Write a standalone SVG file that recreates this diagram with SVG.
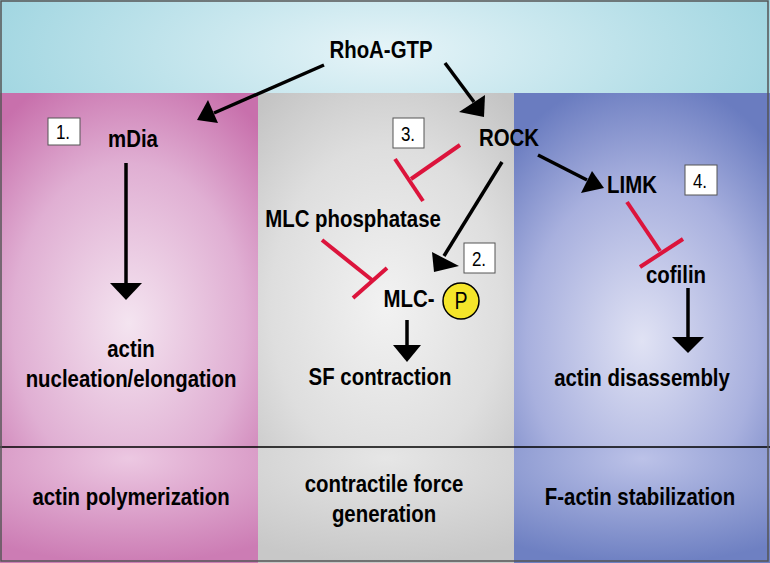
<svg xmlns="http://www.w3.org/2000/svg" width="770" height="563" viewBox="0 0 770 563">
<defs>
<radialGradient id="gTop" cx="0.5" cy="0.55" r="0.6" gradientTransform="translate(0.5 0.55) scale(1 3) translate(-0.5 -0.55)">
<stop offset="0" stop-color="#e6f4f8"/><stop offset="1" stop-color="#98d2de"/></radialGradient>
<radialGradient id="gPink" cx="0.5" cy="0.65" r="0.75"><stop offset="0" stop-color="#f4e4f0"/><stop offset="0.6" stop-color="#e0afd3"/><stop offset="1" stop-color="#c870ac"/></radialGradient>
<radialGradient id="gGrey" cx="0.5" cy="0.6" r="0.75"><stop offset="0" stop-color="#f2f2f2"/><stop offset="0.6" stop-color="#dedede"/><stop offset="1" stop-color="#c4c4c4"/></radialGradient>
<radialGradient id="gBlue" cx="0.5" cy="0.7" r="0.75"><stop offset="0" stop-color="#e0e2f4"/><stop offset="0.6" stop-color="#a8b0de"/><stop offset="1" stop-color="#6a7cc0"/></radialGradient>
<radialGradient id="gPinkB" cx="0.5" cy="0.1" r="0.9"><stop offset="0" stop-color="#ecc8e2"/><stop offset="1" stop-color="#cc7cb4"/></radialGradient>
<radialGradient id="gGreyB" cx="0.5" cy="0.1" r="0.9"><stop offset="0" stop-color="#e6e6e6"/><stop offset="1" stop-color="#c8c8c8"/></radialGradient>
<radialGradient id="gBlueB" cx="0.5" cy="0.1" r="0.9"><stop offset="0" stop-color="#bcc2e8"/><stop offset="1" stop-color="#6e80c2"/></radialGradient>
</defs>
<style>
.t{font-family:"Liberation Sans",Arial,sans-serif;font-weight:bold;font-size:24px;fill:#000;text-anchor:middle}
.n{font-family:"Liberation Sans",Arial,sans-serif;font-size:20px;fill:#000;text-anchor:middle}
.box{fill:#fff;stroke:#555;stroke-width:1}
.act{stroke:#000;stroke-width:3.5;fill:none}
.head{fill:#000}
.inh{stroke:#dc143c;stroke-width:4;fill:none}
</style>
<g id="background">
<rect x="0" y="0" width="770" height="93" fill="url(#gTop)"/>
<rect x="0" y="93" width="258" height="354" fill="url(#gPink)"/>
<rect x="258" y="93" width="256" height="354" fill="url(#gGrey)"/>
<rect x="514" y="93" width="256" height="354" fill="url(#gBlue)"/>
<rect x="0" y="447" width="258" height="116" fill="url(#gPinkB)"/>
<rect x="258" y="447" width="256" height="116" fill="url(#gGreyB)"/>
<rect x="514" y="447" width="256" height="116" fill="url(#gBlueB)"/>
<line x1="0" y1="447" x2="770" y2="447" stroke="#000" stroke-width="1.5"/>
<rect x="1" y="1" width="767" height="560" fill="none" stroke="#555" stroke-width="1.5"/>
</g>
<g id="connectors">
<line class="act" x1="324" y1="65" x2="214" y2="113"/>
<polygon class="head" points="197,120 208,100 218,123"/>
<line class="act" x1="445" y1="63" x2="474" y2="102"/>
<polygon class="head" points="484,117 459,112 485,95"/>
<line class="act" x1="502" y1="162" x2="444" y2="256"/>
<polygon class="head" points="434,272 432,252 459,266"/>
<line class="act" x1="538" y1="155" x2="587" y2="180"/>
<polygon class="head" points="604,188 581,193 592,171"/>
<line class="act" x1="126" y1="163" x2="126" y2="284"/>
<polygon class="head" points="126,300 110,283 142,283"/>
<line class="act" x1="688" y1="288" x2="688" y2="338"/>
<polygon class="head" points="688,353 672,337 704,337"/>
<line class="act" x1="407" y1="320" x2="407" y2="346"/>
<polygon class="head" points="407,362 393,345 421,345"/>
<line class="inh" x1="460" y1="145" x2="411" y2="179"/>
<line class="inh" x1="395" y1="159" x2="423" y2="201"/>
<line class="inh" x1="322" y1="240" x2="372" y2="280"/>
<line class="inh" x1="353" y1="298" x2="387" y2="268"/>
<line class="inh" x1="627" y1="202" x2="660" y2="251"/>
<line class="inh" x1="640" y1="267" x2="683" y2="239"/>
</g>
<g id="rhoa"><text class="t" transform="translate(381,58) scale(0.85,1)">RhoA-GTP</text></g>
<g id="mdia"><text class="t" transform="translate(133,147) scale(0.85,1)">mDia</text></g>
<g id="rock"><text class="t" transform="translate(509,146) scale(0.85,1)">ROCK</text></g>
<g id="limk"><text class="t" transform="translate(632,193) scale(0.85,1)">LIMK</text></g>
<g id="mlcp"><text class="t" transform="translate(353,227) scale(0.85,1)">MLC phosphatase</text></g>
<g id="mlc"><text class="t" transform="translate(409,307) scale(0.85,1)">MLC-</text>
<circle cx="461" cy="301" r="18" fill="#f5e52a" stroke="#000" stroke-width="1.5"/>
<text class="n" transform="translate(461,309) scale(0.85,1)" style="font-size:23px">P</text></g>
<g id="cofilin"><text class="t" transform="translate(676,283) scale(0.85,1)">cofilin</text></g>
<g id="nucleation"><text class="t" transform="translate(131,357) scale(0.85,1)">actin</text><text class="t" transform="translate(131,387) scale(0.85,1)">nucleation/elongation</text></g>
<g id="sf"><text class="t" transform="translate(380,385) scale(0.85,1)">SF contraction</text></g>
<g id="disassembly"><text class="t" transform="translate(642,386) scale(0.85,1)">actin disassembly</text></g>
<g id="poly"><text class="t" transform="translate(131,505) scale(0.85,1)">actin polymerization</text></g>
<g id="force"><text class="t" transform="translate(384,492) scale(0.85,1)">contractile force</text><text class="t" transform="translate(384,522) scale(0.85,1)">generation</text></g>
<g id="stab"><text class="t" transform="translate(640,505) scale(0.85,1)">F-actin stabilization</text></g>
<g id="box1"><rect class="box" x="48" y="118" width="32" height="27"/><text class="n" transform="translate(63,139) scale(0.85,1)">1.</text></g>
<g id="box3"><rect class="box" x="393" y="118" width="31" height="30"/><text class="n" transform="translate(408,141) scale(0.85,1)">3.</text></g>
<g id="box2"><rect class="box" x="464" y="243" width="31" height="30"/><text class="n" transform="translate(479,266) scale(0.85,1)">2.</text></g>
<g id="box4"><rect class="box" x="685" y="165" width="32" height="30"/><text class="n" transform="translate(700,188) scale(0.85,1)">4.</text></g>
</svg>
